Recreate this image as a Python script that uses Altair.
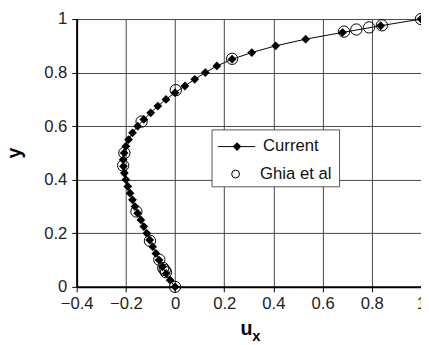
import altair as alt
import pandas as pd

# Current solution (u_x along vertical centreline)
current_y = [0.0, 0.025, 0.05, 0.075, 0.1, 0.125, 0.15, 0.175, 0.2, 0.225,
             0.25, 0.275, 0.3, 0.325, 0.35, 0.375, 0.4, 0.425, 0.45, 0.475,
             0.5, 0.525, 0.55, 0.575, 0.6, 0.625, 0.65, 0.675, 0.7, 0.725,
             0.75, 0.775, 0.8, 0.825, 0.85, 0.875, 0.9, 0.925, 0.95, 0.975, 1.0]
current_u = [0.0, -0.02, -0.036, -0.051, -0.065, -0.078, -0.091, -0.103, -0.115, -0.127,
             -0.139, -0.152, -0.163, -0.173, -0.183, -0.192, -0.2, -0.206, -0.21, -0.211,
             -0.207, -0.2, -0.189, -0.173, -0.152, -0.127, -0.099, -0.07, -0.037, 0.0,
             0.04, 0.08, 0.123, 0.17, 0.232, 0.312, 0.409, 0.531, 0.681, 0.836, 1.0]

# Ghia et al reference data
ghia_y = [1.0, 0.9766, 0.9688, 0.9609, 0.9531, 0.8516, 0.7344, 0.6172, 0.5,
          0.4531, 0.2813, 0.1719, 0.1016, 0.0703, 0.0625, 0.0547, 0.0]
ghia_u = [1.0, 0.841, 0.789, 0.737, 0.687, 0.232, 0.003, -0.136, -0.206,
          -0.211, -0.157, -0.102, -0.064, -0.048, -0.042, -0.037, 0.0]

x_ticks = [-0.4, -0.2, 0, 0.2, 0.4, 0.6, 0.8, 1.0]
y_ticks = [0, 0.2, 0.4, 0.6, 0.8, 1.0]
legend_labels = ["Current", "Ghia et al"]

cur = pd.DataFrame({"u": current_u, "y": current_y, "i": list(range(len(current_y)))})
ghia = pd.DataFrame({"u": ghia_u, "y": ghia_y})
one = pd.DataFrame({"a": [0]})

FONT = "Liberation Sans"

xs = alt.Scale(domain=[-0.4, 1.0], nice=False, zero=False)
ys = alt.Scale(domain=[0, 1.0], nice=False, zero=False)

xax = alt.Axis(values=x_ticks, title=None, labelFlush=False, labelOverlap=False,
               grid=True, labelPadding=4, format=".1~f")
yax = alt.Axis(values=y_ticks, title="y", labelFlush=False, labelOverlap=False,
               grid=True, labelPadding=5, format=".1~f", titleFont=FONT, titleFontSize=20,
               titleFontWeight="bold", titleColor="black", titleX=-53, titleY=136)

line = alt.Chart(cur).mark_line(color="black", strokeWidth=1).encode(
    x=alt.X("u:Q", scale=xs, axis=xax),
    y=alt.Y("y:Q", scale=ys, axis=yax),
    order="i:Q",
)
diam = alt.Chart(cur).mark_point(shape="diamond", filled=True, size=80,
                                 color="black", opacity=1).encode(
    x=alt.X("u:Q", scale=xs), y=alt.Y("y:Q", scale=ys))
circ = alt.Chart(ghia).mark_point(shape="circle", filled=False, size=133,
                                  stroke="black", strokeWidth=1, opacity=1).encode(
    x=alt.X("u:Q", scale=xs), y=alt.Y("y:Q", scale=ys))

# legend box
lbox = alt.Chart(one).mark_rect(fill="white", stroke="#555", strokeWidth=1).encode(
    x=alt.value(138), x2=alt.value(268), y=alt.value(113), y2=alt.value(171))
lrule = alt.Chart(one).mark_rule(color="black", strokeWidth=1).encode(
    x=alt.value(144), x2=alt.value(182), y=alt.value(130))
ldiam = alt.Chart(one).mark_point(shape="diamond", filled=True, size=80,
                                  color="black", opacity=1).encode(
    x=alt.value(163.5), y=alt.value(130))
lcirc = alt.Chart(one).mark_point(shape="circle", filled=False, size=64,
                                  stroke="black", strokeWidth=1, opacity=1).encode(
    x=alt.value(162), y=alt.value(158))
ltext1 = alt.Chart(one).mark_text(align="left", baseline="middle", font=FONT,
                                  fontSize=17, color="#111").encode(
    x=alt.value(190), y=alt.value(130), text=alt.value(legend_labels[0]))
ltext2 = alt.Chart(one).mark_text(align="left", baseline="middle", font=FONT,
                                  fontSize=17, color="#111").encode(
    x=alt.value(187), y=alt.value(158), text=alt.value(legend_labels[1]))

# x-axis title u_x
tu = alt.Chart(one).mark_text(align="left", baseline="alphabetic", font=FONT,
                              fontSize=20, fontWeight="bold", color="black").encode(
    x=alt.value(167), y=alt.value(322), text=alt.value("u"))
tx = alt.Chart(one).mark_text(align="left", baseline="alphabetic", font=FONT,
                              fontSize=15, fontWeight="bold", color="black").encode(
    x=alt.value(179), y=alt.value(328), text=alt.value("x"))

chart = alt.layer(line, diam, circ, lbox, lrule, ldiam, lcirc, ltext1, ltext2, tu, tx).properties(
    width=351, height=273,
    padding={"left": 70, "top": 8, "right": 0, "bottom": 56},
    autosize="none",
).configure_view(stroke=None).configure_axis(
    gridColor="#444", gridWidth=1, gridOpacity=1,
    domainColor="black", domainWidth=2,
    tickColor="black", tickSize=5, tickWidth=1,
    labelFont=FONT, labelFontSize=17, labelColor="#222",
)

chart.save("out.html", embed_options={"renderer": "svg", "actions": False})
